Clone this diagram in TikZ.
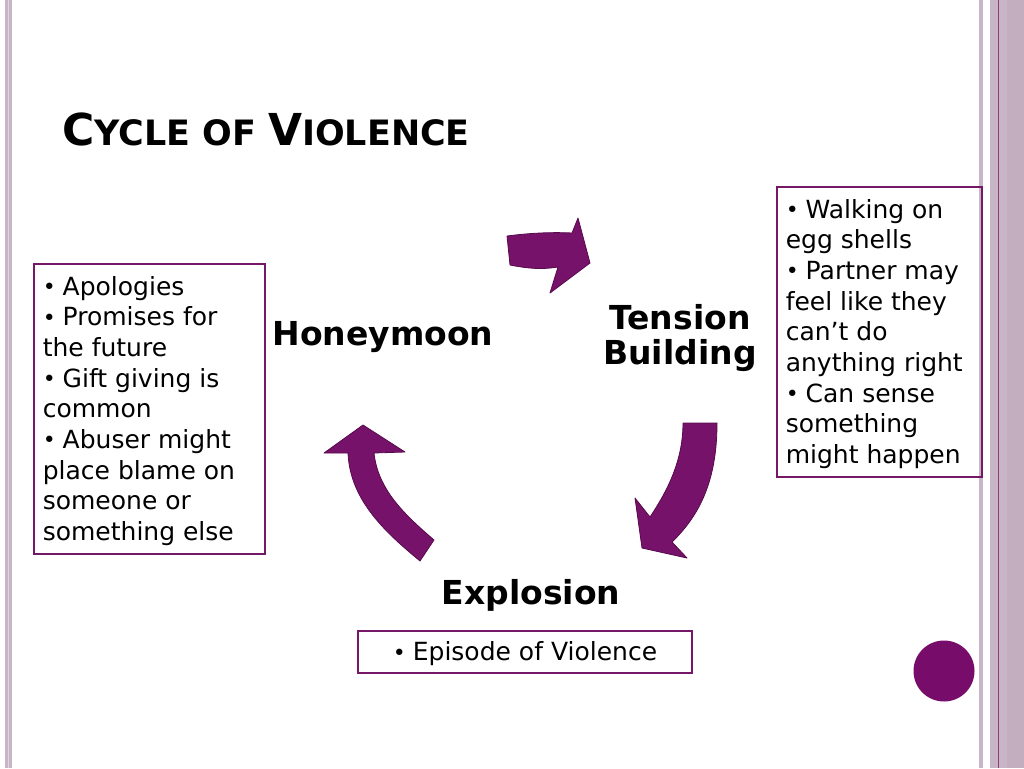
\documentclass[tikz,border=0pt]{standalone}
\usepackage{fontspec}
\setmainfont{DejaVu Sans}
\definecolor{plum}{HTML}{761868}
\definecolor{arrowfill}{HTML}{77126A}
\definecolor{arrowedge}{HTML}{560A4B}
\definecolor{stripe}{HTML}{C8B5C5}
\definecolor{stripeb}{HTML}{C2AEBF}
\definecolor{stripedark}{HTML}{8E3D82}
\definecolor{dotfill}{HTML}{780C6B}
\newcommand\bul{\raisebox{0.5pt}{\fontsize{16.5}{23}\selectfont •}\hspace{5.2pt}}
\begin{document}
\begin{tikzpicture}[x=0.75pt,y=-0.75pt,
  box/.style={draw=plum,line width=2.2pt,inner sep=0pt,rectangle},
  bodytext/.style={font=\fontsize{18.75}{23}\selectfont,align=left,inner sep=0pt},
  stage/.style={font=\fontsize{24.75}{26.25}\selectfont\bfseries,align=center,inner sep=0pt},
  curvearrow/.style={fill=arrowfill,draw=arrowedge,line width=0.6pt,line join=round}]
\useasboundingbox (0,0) rectangle (1024,768);
\fill[white] (0,0) rectangle (1024,768);
% side stripes
\fill[stripe] (5,0) rectangle (12,768);
\fill[stripe!55] (8,0) rectangle (9,768);
\fill[stripe] (979,0) rectangle (983,768);
\fill[stripe] (990,0) rectangle (1024,768);
\fill[stripeb] (1007,0) rectangle (1024,768);
\draw[stripedark,line width=1.1pt] (998.5,0) -- (998.5,768);
% title
\node[anchor=base west,inner sep=0pt,font=\bfseries] (title) at (62,145)
  {{\fontsize{33}{40}\selectfont C}{\fontsize{26.2}{30}\selectfont YCLE OF }{\fontsize{33}{40}\selectfont V}{\fontsize{26.2}{30}\selectfont IOLENCE}};
% boxes
\node[box,minimum width=173.25pt,minimum height=217.5pt] (leftbox) at (149.5,409) {};
\node[box,minimum width=153.75pt,minimum height=217.5pt] (rightbox) at (879.5,332) {};
\node[box,minimum width=250.5pt,minimum height=31.5pt] (bottombox) at (525,652) {};
\node[bodytext,anchor=west,xshift=7.5pt,yshift=-1.4pt] (lefttext) at (leftbox.west)
  {\bul Apologies\\\bul Promises for\\the future\\\bul Gift giving is\\common\\\bul Abuser might\\place blame on\\someone or\\something else};
\node[bodytext,anchor=west,xshift=7.5pt,yshift=-1.4pt] (righttext) at (rightbox.west)
  {\bul Walking on\\egg shells\\\bul Partner may\\feel like they\\can’t do\\anything right\\\bul Can sense\\something\\might happen};
\node[bodytext,yshift=-1.4pt] (bottomtext) at (bottombox.center) {\bul Episode of Violence};
% stage labels
\node[stage] (honeymoon) at (383,337) {Honeymoon};
\node[stage] (tension) at (680,338) {Tension\\Building};
\node[stage] (explosion) at (531,595) {Explosion};
% curved arrows
\draw[curvearrow] (507,236) .. controls (530,233) and (552,232) .. (572,233)
  -- (578,218) -- (590,263) -- (550,293) -- (558,267)
  .. controls (540,270) and (525,268) .. (510,265) -- cycle;
\draw[curvearrow] (683,423) -- (717,423) .. controls (717,480) and (700,515) .. (672,542)
  -- (687,558) -- (642,548) -- (635,498) -- (650,517)
  .. controls (668,490) and (683,460) .. (683,423) -- cycle;
\draw[curvearrow] (363,425) -- (405,452) -- (374,453) .. controls (378,490) and (405,515) .. (434,540)
  -- (420,561) .. controls (385,532) and (350,500) .. (348,453) -- (324,453) -- cycle;
% dot
\node[circle,fill=dotfill,minimum size=45.75pt,inner sep=0pt] (dot) at (944,671) {};
\end{tikzpicture}
\end{document}
